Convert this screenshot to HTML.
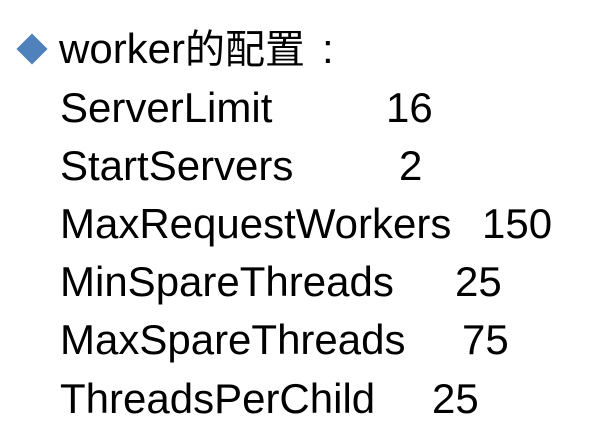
<!DOCTYPE html>
<html><head><meta charset="utf-8"><style>
html,body{margin:0;padding:0;width:599px;height:443px;background:#fff;overflow:hidden;position:relative}
.t{position:absolute;font-family:"Liberation Sans","Noto Sans CJK SC",sans-serif;font-size:42px;line-height:42px;color:#000;white-space:nowrap}
.d{position:absolute;left:21px;top:38px;width:22px;height:22px;background:#4f81bd;transform:rotate(45deg)}
</style></head><body>
<div class="d"></div>
<div class="t" style="left:59px;top:28px">worker<span style="font-size:40px">的配置</span></div>
<div class="t" style="left:322px;top:28px">:</div>
<div class="t" style="left:60px;top:87px">ServerLimit</div>
<div class="t" style="left:386px;top:87px">16</div>
<div class="t" style="left:60px;top:145px">StartServers</div>
<div class="t" style="left:399px;top:145px">2</div>
<div class="t" style="left:60px;top:203px">MaxRequestWorkers</div>
<div class="t" style="left:482px;top:203px">150</div>
<div class="t" style="left:60px;top:261px">MinSpareThreads</div>
<div class="t" style="left:455px;top:261px">25</div>
<div class="t" style="left:60px;top:319px">MaxSpareThreads</div>
<div class="t" style="left:462px;top:319px">75</div>
<div class="t" style="left:60px;top:378px">ThreadsPerChild</div>
<div class="t" style="left:432px;top:378px">25</div>
</body></html>
